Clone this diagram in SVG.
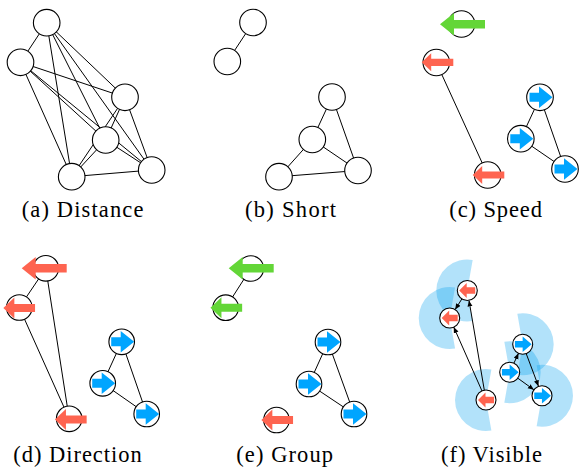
<svg xmlns="http://www.w3.org/2000/svg" xmlns:xlink="http://www.w3.org/1999/xlink" width="579" height="471" viewBox="0 0 579 471">
<style>
.n{fill:#fff;stroke:#000;stroke-width:1.1}
.e{stroke:#000;stroke-width:1;fill:none}
.d{stroke:#000;stroke-width:1;fill:none;marker-end:url(#ah)}
.r{fill:#fe6450}
.g{fill:#63d637}
.b{fill:#00a5ff}
.w{fill:#00a0f0;fill-opacity:0.3}
</style>
<defs>
<marker id="ah" markerUnits="userSpaceOnUse" markerWidth="7" markerHeight="6" refX="6" refY="2.5" orient="auto">
<path d="M0,0 L6,2.5 L0,5 z" fill="#000"/>
</marker>
<polygon id="al" points="-22.5,0 -8.5,-11.3 -8.5,-4.2 22.5,-4.2 22.5,4.2 -8.5,4.2 -8.5,11.3"/>
<polygon id="am" points="-15.85,0 -4.85,-10.5 -4.85,-4 15.85,-4 15.85,4 -4.85,4 -4.85,10.5"/>
<polygon id="as" points="-15.8,0 -6.3,-9 -6.3,-3.6 15.8,-3.6 15.8,3.6 -6.3,3.6 -6.3,9"/>
<polygon id="ar" points="11.5,0 -2,-10.8 -2,-4.5 -11.5,-4.5 -11.5,4.5 -2,4.5 -2,10.8"/>
<polygon id="fl" points="-8,0 -0.5,-7.5 -0.5,-3.2 8,-3.2 8,3.2 -0.5,3.2 -0.5,7.5"/>
<polygon id="fr" points="8.35,0 -0.65,-7.8 -0.65,-3.2 -8.35,-3.2 -8.35,3.2 -0.65,3.2 -0.65,7.8"/>
</defs>

<!-- field-of-view wedges (f) -->
<g id="fov-f">
<path class="w" d="M467.3,290.5 L472.68,259.97 A31,31 0 1 0 472.68,321.03 Z"/>
<path class="w" d="M449.7,318 L455.08,287.47 A31,31 0 1 0 455.08,348.53 Z"/>
<path class="w" d="M486,400 L491.38,369.47 A31,31 0 1 0 491.38,430.53 Z"/>
<path class="w" d="M522.7,344.2 L517.32,313.67 A31,31 0 1 1 517.32,374.73 Z"/>
<path class="w" d="M509.7,372.3 L504.32,341.77 A31,31 0 1 1 504.32,402.83 Z"/>
<path class="w" d="M542,395.7 L536.62,365.17 A31,31 0 1 1 536.62,426.23 Z"/>
</g>

<g id="connectors">
<!-- (a) complete graph -->
<line class="e" x1="46.7" y1="22.7" x2="20.5" y2="62.3"/>
<line class="e" x1="46.7" y1="22.7" x2="125" y2="97.3"/>
<line class="e" x1="46.7" y1="22.7" x2="105.7" y2="140"/>
<line class="e" x1="46.7" y1="22.7" x2="71.7" y2="176.7"/>
<line class="e" x1="46.7" y1="22.7" x2="151.7" y2="170"/>
<line class="e" x1="20.5" y1="62.3" x2="125" y2="97.3"/>
<line class="e" x1="20.5" y1="62.3" x2="105.7" y2="140"/>
<line class="e" x1="20.5" y1="62.3" x2="71.7" y2="176.7"/>
<line class="e" x1="20.5" y1="62.3" x2="151.7" y2="170"/>
<line class="e" x1="125" y1="97.3" x2="105.7" y2="140"/>
<line class="e" x1="125" y1="97.3" x2="71.7" y2="176.7"/>
<line class="e" x1="125" y1="97.3" x2="151.7" y2="170"/>
<line class="e" x1="105.7" y1="140" x2="71.7" y2="176.7"/>
<line class="e" x1="105.7" y1="140" x2="151.7" y2="170"/>
<line class="e" x1="71.7" y1="176.7" x2="151.7" y2="170"/>
<!-- (b) -->
<line class="e" x1="253" y1="22.5" x2="227.3" y2="61.5"/>
<line class="e" x1="332" y1="97" x2="312.3" y2="139.5"/>
<line class="e" x1="332" y1="97" x2="358" y2="170.5"/>
<line class="e" x1="312.3" y1="139.5" x2="279" y2="176.7"/>
<line class="e" x1="312.3" y1="139.5" x2="358" y2="170.5"/>
<line class="e" x1="279" y1="176.7" x2="358" y2="170.5"/>
<!-- (c) -->
<line class="e" x1="436.3" y1="62.5" x2="487.7" y2="175"/>
<line class="e" x1="540" y1="97.3" x2="520.8" y2="138.7"/>
<line class="e" x1="540" y1="97.3" x2="565" y2="169"/>
<line class="e" x1="520.8" y1="138.7" x2="565" y2="169"/>
<!-- (d) -->
<line class="e" x1="45.8" y1="268.3" x2="19.3" y2="307.5"/>
<line class="e" x1="45.8" y1="268.3" x2="69.2" y2="418.8"/>
<line class="e" x1="19.3" y1="307.5" x2="69.2" y2="418.8"/>
<line class="e" x1="121.7" y1="341.8" x2="102.7" y2="383.3"/>
<line class="e" x1="121.7" y1="341.8" x2="146.7" y2="414"/>
<line class="e" x1="102.7" y1="383.3" x2="146.7" y2="414"/>
<!-- (e) -->
<line class="e" x1="250.8" y1="268.5" x2="225.7" y2="307.7"/>
<line class="e" x1="328" y1="342" x2="309" y2="384"/>
<line class="e" x1="328" y1="342" x2="354" y2="414"/>
<line class="e" x1="309" y1="384" x2="354" y2="414"/>
<!-- (f) directed -->
<line class="d" x1="461.9" y1="298.9" x2="455.1" y2="309.6"/>
<line class="d" x1="484.3" y1="390.1" x2="469.0" y2="300.4"/>
<line class="d" x1="481.95" y1="390.9" x2="453.75" y2="327.1"/>
<line class="d" x1="513.9" y1="363.2" x2="518.5" y2="353.3"/>
<line class="d" x1="526.2" y1="353.6" x2="538.5" y2="386.3"/>
<line class="d" x1="517.8" y1="378.2" x2="533.9" y2="389.8"/>
</g>

<!-- (a) nodes -->
<g id="a1"><circle class="n" cx="46.7" cy="22.7" r="13.3"/></g>
<g id="a2"><circle class="n" cx="20.5" cy="62.3" r="13.3"/></g>
<g id="a3"><circle class="n" cx="125" cy="97.3" r="13.3"/></g>
<g id="a4"><circle class="n" cx="105.7" cy="140" r="13.3"/></g>
<g id="a5"><circle class="n" cx="71.7" cy="176.7" r="13.3"/></g>
<g id="a6"><circle class="n" cx="151.7" cy="170" r="13.3"/></g>

<!-- (b) nodes -->
<g id="b1"><circle class="n" cx="253" cy="22.5" r="13.3"/></g>
<g id="b2"><circle class="n" cx="227.3" cy="61.5" r="13.3"/></g>
<g id="b3"><circle class="n" cx="332" cy="97" r="13.3"/></g>
<g id="b4"><circle class="n" cx="312.3" cy="139.5" r="13.3"/></g>
<g id="b5"><circle class="n" cx="279" cy="176.7" r="13.3"/></g>
<g id="b6"><circle class="n" cx="358" cy="170.5" r="13.3"/></g>

<!-- (c) nodes -->
<g id="c1"><circle class="n" cx="461.5" cy="24" r="13.3"/><use xlink:href="#al" class="g" x="462.5" y="24.3"/></g>
<g id="c2"><circle class="n" cx="436.3" cy="62.5" r="13.3"/><use xlink:href="#as" class="r" x="437.5" y="62.3"/></g>
<g id="c3"><circle class="n" cx="487.7" cy="175" r="13.3"/><use xlink:href="#as" class="r" x="488.5" y="175"/></g>
<g id="c4"><circle class="n" cx="540" cy="97.3" r="13.3"/><use xlink:href="#ar" class="b" x="541" y="97.3"/></g>
<g id="c5"><circle class="n" cx="520.8" cy="138.7" r="13.3"/><use xlink:href="#ar" class="b" x="521.8" y="138.7"/></g>
<g id="c6"><circle class="n" cx="565" cy="169" r="13.3"/><use xlink:href="#ar" class="b" x="566" y="169"/></g>

<!-- (d) nodes -->
<g id="d1"><circle class="n" cx="45.8" cy="268.3" r="12.8"/><use xlink:href="#al" class="r" x="44.2" y="268.3"/></g>
<g id="d2"><circle class="n" cx="19.3" cy="307.5" r="12.8"/><use xlink:href="#am" class="r" x="19.2" y="308"/></g>
<g id="d3"><circle class="n" cx="69.2" cy="418.8" r="12.8"/><use xlink:href="#am" class="r" x="70.8" y="419.5"/></g>
<g id="d4"><circle class="n" cx="121.7" cy="341.8" r="12.8"/><use xlink:href="#ar" class="b" x="122.7" y="341.8"/></g>
<g id="d5"><circle class="n" cx="102.7" cy="383.3" r="12.8"/><use xlink:href="#ar" class="b" x="103.7" y="383.3"/></g>
<g id="d6"><circle class="n" cx="146.7" cy="414" r="12.8"/><use xlink:href="#ar" class="b" x="147.7" y="414"/></g>

<!-- (e) nodes -->
<g id="e1"><circle class="n" cx="250.8" cy="268.5" r="12.8"/><use xlink:href="#al" class="g" x="251.2" y="268.3"/></g>
<g id="e2"><circle class="n" cx="225.7" cy="307.7" r="12.8"/><use xlink:href="#am" class="g" x="226.3" y="307.7"/></g>
<g id="e3"><circle class="n" cx="276.5" cy="420" r="12.8"/><use xlink:href="#am" class="r" x="277.2" y="420"/></g>
<g id="e4"><circle class="n" cx="328" cy="342" r="12.8"/><use xlink:href="#ar" class="b" x="329" y="342"/></g>
<g id="e5"><circle class="n" cx="309" cy="384" r="12.8"/><use xlink:href="#ar" class="b" x="310" y="384"/></g>
<g id="e6"><circle class="n" cx="354" cy="414" r="12.8"/><use xlink:href="#ar" class="b" x="355" y="414"/></g>

<!-- (f) nodes -->
<g id="f1"><circle class="n" cx="467.3" cy="290.5" r="10"/><use xlink:href="#fl" class="r" x="467.2" y="290.5"/></g>
<g id="f2"><circle class="n" cx="449.7" cy="318" r="10"/><use xlink:href="#fl" class="r" x="449.7" y="318"/></g>
<g id="f3"><circle class="n" cx="486" cy="400" r="10"/><use xlink:href="#fl" class="r" x="486" y="400"/></g>
<g id="f4"><circle class="n" cx="522.7" cy="344.2" r="10"/><use xlink:href="#fr" class="b" x="523.3" y="344.2"/></g>
<g id="f5"><circle class="n" cx="509.7" cy="372.3" r="10"/><use xlink:href="#fr" class="b" x="510.3" y="372.3"/></g>
<g id="f6"><circle class="n" cx="542" cy="395.7" r="10"/><use xlink:href="#fr" class="b" x="542.6" y="395.7"/></g>

<g id="labels" font-family="Liberation Serif, Times New Roman, serif" font-size="22.5" fill="#000">
<text x="21.7" y="217" textLength="121.7">(a) Distance</text>
<text x="245" y="217" textLength="91">(b) Short</text>
<text x="449.3" y="217" textLength="92.7">(c) Speed</text>
<text x="13.3" y="462" textLength="128.4">(d) Direction</text>
<text x="236.3" y="462" textLength="96.7">(e) Group</text>
<text x="441" y="462" textLength="101">(f) Visible</text>
</g>
</svg>
